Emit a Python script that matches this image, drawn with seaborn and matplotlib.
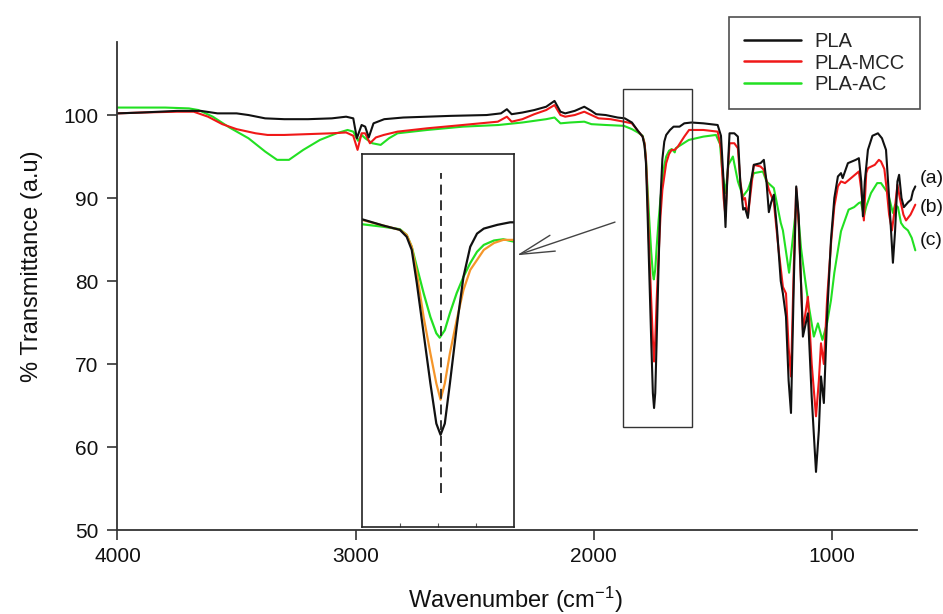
import matplotlib
matplotlib.use("Agg")
import matplotlib.pyplot as plt
import numpy as np
import pandas as pd
import seaborn as sns
from matplotlib.patches import Rectangle
from matplotlib.lines import Line2D

# ---------------- data ----------------
samples = ["PLA", "PLA-MCC", "PLA-AC"]

wn_pla = [4000, 3900, 3750, 3650, 3580, 3500, 3450, 3380, 3300, 3200,
          3100, 3040, 3010, 2995, 2975, 2960, 2945, 2925, 2880, 2800,
          2600, 2450, 2390, 2365, 2345, 2300, 2250, 2200, 2165, 2140,
          2120, 2080, 2040, 2010, 1990, 1950, 1900, 1870, 1840, 1815,
          1795, 1787, 1781, 1775, 1767, 1759, 1752, 1747, 1742, 1736,
          1728, 1720, 1712, 1704, 1696, 1680, 1665, 1640, 1620, 1590,
          1540, 1480, 1466, 1455, 1447, 1440, 1430, 1410, 1395, 1385,
          1373, 1365, 1353, 1340, 1328, 1300, 1286, 1275, 1265, 1255,
          1244, 1230, 1215, 1206, 1193, 1182, 1172, 1160, 1150, 1140,
          1122, 1101, 1085, 1067, 1055, 1046, 1034, 1020, 1004, 990,
          975, 962, 955, 933, 900, 887, 877, 870, 862, 849,
          830, 807, 790, 773, 760, 744, 735, 725, 718, 708,
          698, 680, 668, 660, 650]
t_pla = [100.2, 100.3, 100.5, 100.5, 100.2, 100.2, 100.0, 99.6, 99.5, 99.5,
         99.6, 99.8, 99.6, 97.2, 98.8, 98.6, 97.3, 99.0, 99.5, 99.7,
         99.9, 100.0, 100.2, 100.7, 100.1, 100.3, 100.6, 101.0, 101.7, 100.4,
         100.2, 100.5, 101.0, 100.5, 100.1, 100.0, 99.7, 99.6, 99.1, 98.1,
         97.4, 96.3, 94.2, 88.9, 80.9, 72.9, 66.5, 64.7, 66.5, 72.9,
         81.9, 89.9, 94.7, 96.8, 97.6, 98.2, 98.6, 98.6, 99.0, 99.1,
         99.0, 98.8, 97.5, 92.0, 86.5, 92.0, 97.8, 97.8, 97.4, 92.0,
         88.6, 88.8, 87.6, 92.0, 94.0, 94.2, 94.6, 92.0, 88.3, 89.5,
         90.4, 86.0, 80.0, 78.5, 75.7, 68.0, 64.1, 80.0, 91.4, 88.0,
         73.3, 76.1, 66.0, 57.0, 62.0, 68.5, 65.3, 76.0, 85.0, 90.0,
         92.6, 93.0, 92.4, 94.2, 94.6, 94.8, 92.0, 87.8, 92.0, 95.8,
         97.5, 97.8, 97.2, 95.8, 90.0, 82.2, 86.0, 92.0, 92.8, 90.0,
         88.9, 89.5, 89.8, 90.8, 91.4]

wn_mcc = [4000, 3900, 3750, 3680, 3620, 3560, 3500, 3420, 3370, 3300,
          3200, 3100, 3040, 3010, 2992, 2975, 2960, 2940, 2915, 2882,
          2824, 2700, 2550, 2403, 2365, 2345, 2300, 2250, 2200, 2165,
          2140, 2120, 2080, 2040, 2010, 1980, 1930, 1874, 1840, 1815,
          1795, 1787, 1781, 1775, 1767, 1759, 1752, 1747, 1742, 1736,
          1728, 1720, 1712, 1704, 1696, 1684, 1673, 1660, 1647, 1620,
          1600, 1540, 1480, 1466, 1455, 1447, 1440, 1430, 1410, 1395,
          1385, 1373, 1365, 1353, 1340, 1328, 1300, 1286, 1265, 1244,
          1225, 1206, 1193, 1182, 1172, 1160, 1150, 1140, 1122, 1101,
          1085, 1067, 1055, 1046, 1034, 1020, 1004, 990, 975, 962,
          945, 920, 887, 877, 866, 856, 849, 820, 803, 794,
          780, 770, 760, 748, 735, 725, 715, 700, 689, 670,
          650]
t_mcc = [100.2, 100.3, 100.4, 100.4, 99.8, 98.9, 98.3, 97.8, 97.6, 97.6,
         97.7, 97.8, 97.9, 97.5, 95.8, 97.8, 97.8, 96.6, 97.3, 97.6,
         98.0, 98.4, 98.8, 99.2, 99.8, 99.2, 99.5, 100.1, 100.6, 101.2,
         100.0, 99.8, 100.0, 100.4, 100.0, 99.6, 99.5, 99.2, 99.0, 98.1,
         97.4, 96.6, 94.7, 90.5, 83.5, 77.7, 72.9, 70.3, 72.9, 77.7,
         83.0, 87.8, 91.0, 92.6, 94.2, 95.3, 95.8, 95.8, 96.2, 97.4,
         98.2, 98.2, 98.0, 96.0, 90.0, 87.8, 92.0, 96.6, 96.6, 96.0,
         92.0, 89.8, 90.0, 87.8, 91.0, 94.0, 93.8, 93.4, 91.0, 89.5,
         84.0, 79.3, 78.5, 72.0, 68.5, 82.0, 91.2, 87.0, 74.1, 78.1,
         70.0, 63.7, 68.0, 72.5, 70.0, 78.0, 84.5, 89.0, 91.4, 92.0,
         91.8, 92.4, 93.2, 91.0, 87.3, 93.0, 93.6, 94.0, 94.6, 94.4,
         93.5, 91.0, 88.0, 86.1, 89.0, 91.6, 90.0, 88.0, 87.3, 88.0,
         89.2]

wn_ac = [4000, 3900, 3800, 3700, 3660, 3600, 3530, 3450, 3380, 3330,
         3280, 3220, 3150, 3080, 3034, 3010, 2990, 2975, 2960, 2930,
         2895, 2860, 2824, 2700, 2550, 2400, 2300, 2200, 2165, 2140,
         2100, 2040, 2010, 1950, 1874, 1840, 1815, 1795, 1787, 1781,
         1775, 1767, 1759, 1752, 1748, 1742, 1736, 1728, 1720, 1712,
         1704, 1696, 1684, 1673, 1660, 1656, 1601, 1540, 1487, 1470,
         1460, 1447, 1435, 1416, 1395, 1374, 1353, 1328, 1290, 1275,
         1244, 1215, 1206, 1180, 1165, 1147, 1130, 1118, 1100, 1076,
         1059, 1040, 1020, 1004, 990, 975, 962, 930, 907, 887,
         878, 866, 856, 836, 810, 794, 775, 765, 744, 735,
         723, 710, 698, 681, 665, 650]
t_ac = [100.9, 100.9, 100.9, 100.8, 100.6, 99.8, 98.5, 97.2, 95.6, 94.6,
        94.6, 95.8, 97.0, 97.8, 98.2, 98.0, 96.9, 97.6, 97.2, 96.6,
        96.4, 97.2, 97.8, 98.2, 98.6, 98.8, 99.1, 99.5, 99.7, 99.0,
        99.1, 99.2, 98.9, 98.8, 98.7, 98.3, 97.9, 97.5, 96.6, 94.7,
        91.5, 87.3, 83.5, 80.9, 80.2, 81.4, 84.1, 87.3, 89.9, 92.1,
        93.9, 95.0, 95.7, 95.9, 95.5, 96.0, 97.0, 97.4, 97.6, 96.5,
        93.0, 90.6, 94.0, 95.0, 92.0, 90.2, 91.0, 93.0, 93.2, 92.0,
        91.2, 87.0, 86.1, 81.0, 85.0, 89.8, 84.0, 81.3, 77.5, 73.3,
        74.9, 72.9, 75.0, 77.7, 81.0, 83.7, 86.0, 88.6, 88.9, 89.4,
        89.5, 87.8, 89.0, 90.6, 91.8, 91.8, 91.0, 90.6, 88.2, 89.2,
        88.9, 87.0, 86.5, 86.1, 85.2, 83.7]

curve_labels = ["(a)", "(b)", "(c)"]
curve_label_y = [92.4, 88.8, 84.9]
x_ticks = [4000, 3000, 2000, 1000]
y_ticks = [50, 60, 70, 80, 90, 100]
peak_wn = 1747

# ---------------- build table ----------------
df = pd.concat([
    pd.DataFrame({"wn": wn_pla, "T": t_pla, "sample": "PLA"}),
    pd.DataFrame({"wn": wn_mcc, "T": t_mcc, "sample": "PLA-MCC"}),
    pd.DataFrame({"wn": wn_ac, "T": t_ac, "sample": "PLA-AC"}),
], ignore_index=True)

# ---------------- style ----------------
sns.set_style("ticks")
plt.rcParams["font.family"] = ["Liberation Sans", "DejaVu Sans"]
plt.rcParams["mathtext.default"] = "regular"

palette = {"PLA": "#111111", "PLA-MCC": "#f01818", "PLA-AC": "#22e022"}
palette_in = {"PLA": "#111111", "PLA-MCC": "#f5962a", "PLA-AC": "#22e022"}
draw_order = ["PLA-AC", "PLA-MCC", "PLA"]

fig = plt.figure(figsize=(9.43, 6.14), dpi=100)
ax = fig.add_axes([0.1246, 0.1368, 0.8478, 0.7948])

sns.lineplot(data=df, x="wn", y="T", hue="sample", hue_order=draw_order,
             palette=palette, estimator=None, sort=False, lw=1.5,
             legend=False, ax=ax)

ax.set_xlim(4000, 643)
ax.set_ylim(50, 108.8)
ax.set_xticks(x_ticks)
ax.set_yticks(y_ticks)
sns.despine(ax=ax)
for s in ["left", "bottom"]:
    ax.spines[s].set_linewidth(1.3)
    ax.spines[s].set_color("#333333")
ax.tick_params(axis="both", direction="out", length=7, width=1.2,
               color="#333333", labelsize=15, labelcolor="#111111")
ax.tick_params(axis="x", pad=5)
ax.tick_params(axis="y", pad=7)

ax.set_xlabel("Wavenumber (cm$^{-1}$)", fontsize=17, color="#111111")
ax.set_ylabel("% Transmittance (a.u)", fontsize=17, color="#111111")
ax.xaxis.set_label_coords(0.497, -0.113)
ax.yaxis.set_label_coords(-0.093, 0.541)

for lab, yv in zip(curve_labels, curve_label_y):
    ax.text(631, yv, lab, fontsize=14, ha="left", va="center",
            clip_on=False, color="#111111")

# rectangle around carbonyl peak
ax.add_patch(Rectangle((1589, 62.45), 290, 40.65, fill=False,
                       ec="#333333", lw=1.0, zorder=3))

# arrow pointing to inset
ax.annotate("", xy=(2323, 83.1), xytext=(1911, 87.1),
            arrowprops=dict(arrowstyle="->,head_length=2.5,head_width=0.6",
                            mutation_scale=10, lw=1.0, color="#444444",
                            shrinkA=0, shrinkB=0))

# legend
handles = [Line2D([], [], color=palette[n], lw=1.8) for n in samples]
leg = fig.legend(handles, samples, loc="upper right",
                 bbox_to_anchor=(920 / 943, 1 - 17 / 614),
                 frameon=True, fancybox=False, edgecolor="#222222",
                 fontsize=14.5, handlelength=2.8, handletextpad=0.7,
                 labelspacing=0.12, borderpad=0.75, borderaxespad=0)
leg.get_frame().set_linewidth(1.2)

# ---------------- inset ----------------
ax_in = fig.add_axes([0.3836, 0.1417, 0.1618, 0.6075])
ax_in.set_facecolor("white")
sns.lineplot(data=df, x="wn", y="T", hue="sample", hue_order=draw_order,
             palette=palette_in, estimator=None, sort=False, lw=1.6,
             legend=False, ax=ax_in)
ax_in.set_xlim(1840, 1660)
ax_in.set_ylim(50, 109.5)
ax_in.set_xticks([1795, 1750, 1705])
ax_in.set_xticklabels([])
ax_in.set_yticks([])
ax_in.set_xlabel("")
ax_in.set_ylabel("")
ax_in.tick_params(axis="x", direction="in", length=3, width=0.8,
                  color="#555555")
for s in ax_in.spines.values():
    s.set_linewidth(1.2)
    s.set_color("#222222")
ax_in.vlines(peak_wn, 55.4, 106.5, colors="#222222", lw=1.3,
             linestyles=(0, (5.5, 3.2)), zorder=5)

fig.savefig("out.png", dpi=100)
